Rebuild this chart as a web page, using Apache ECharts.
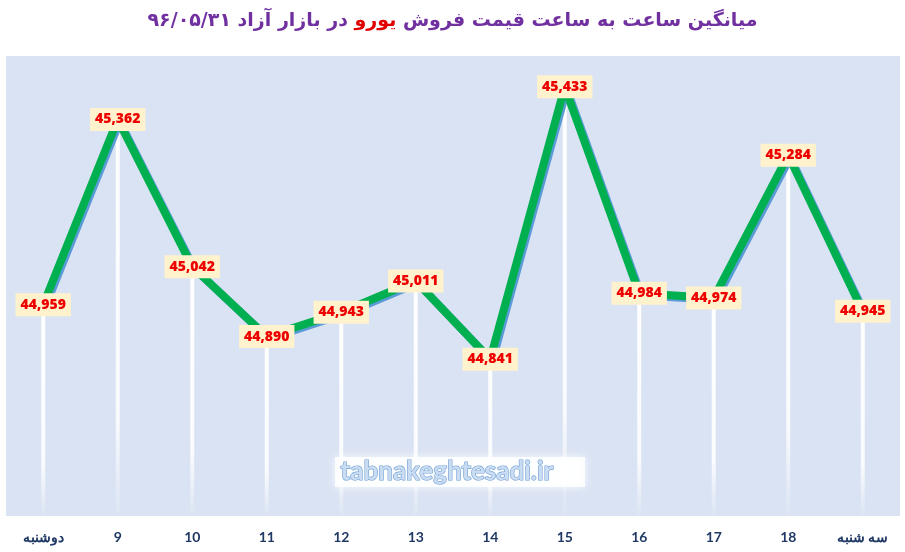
<!DOCTYPE html>
<html>
<head>
<meta charset="utf-8">
<script src="https://cdn.jsdelivr.net/npm/echarts@6/dist/echarts.min.js"></script>
<style>
html, body { margin: 0; padding: 0; background: #fff; }
#chart { width: 905px; height: 552px; }
</style>
</head>
<body>
<div id="chart"></div>
<script>
// ساعت‌ها (محور افقی)
var hours = ['دوشنبه', '9', '10', '11', '12', '13', '14', '15', '16', '17', '18', 'سه شنبه'];
// قیمت فروش یورو
var prices = [44959, 45362, 45042, 44890, 44943, 45011, 44841, 45433, 44984, 44974, 45284, 44945];
var yMin = 44500;
var yMax = 45500;

var myChart = echarts.init(document.getElementById('chart'));

var option = {
  backgroundColor: '#ffffff',
  animation: false,
  title: {
    left: 'center',
    top: 7,
    text: '{p|۹۶/۰۵/۳۱ در بازار آزاد }{r|یورو}{p| میانگین ساعت به ساعت قیمت فروش}',
    textStyle: {
      rich: {
        p: { color: '#7030a0', fontSize: 19, fontWeight: 'bold', fontFamily: 'DejaVu Sans' },
        r: { color: '#e00000', fontSize: 19, fontWeight: 'bold', fontFamily: 'DejaVu Sans' }
      }
    }
  },
  grid: { left: 6, right: 5, top: 56, bottom: 36, show: true, backgroundColor: '#dae3f3', borderWidth: 0 },
  xAxis: {
    type: 'category',
    data: hours,
    boundaryGap: true,
    axisLine: { show: false },
    axisTick: { show: false },
    axisLabel: { color: '#1f3864', fontWeight: 'bold', fontSize: 14, fontFamily: 'Lato', margin: 14 }
  },
  yAxis: {
    type: 'value',
    min: yMin,
    max: yMax,
    show: false,
    splitLine: { show: false }
  },
  series: [
    {
      // خطوط عمودی سفید زیر نقاط
      type: 'bar',
      data: prices,
      barWidth: 4,
      silent: true,
      itemStyle: {
        color: new echarts.graphic.LinearGradient(0, 0, 0, 1, [
          { offset: 0, color: 'rgba(255,255,255,1)' },
          { offset: 0.75, color: 'rgba(255,255,255,0.85)' },
          { offset: 1, color: 'rgba(255,255,255,0.05)' }
        ])
      },
      z: 1
    },
    {
      type: 'line',
      data: prices,
      symbol: 'circle',
      symbolSize: 1,
      itemStyle: { color: '#00b050' },
      lineStyle: {
        color: '#00b050',
        width: 8,
        shadowColor: '#5b9bd5',
        shadowOffsetX: 2,
        shadowOffsetY: 2,
        shadowBlur: 0
      },
      label: {
        show: true,
        position: 'inside',
        color: '#ee0000',
        fontWeight: 800,
        fontSize: 14,
        fontFamily: 'Open Sans',
        backgroundColor: '#fff2cc',
        padding: [5, 5, 4, 5],
        formatter: function (p) { return echarts.format.addCommas(p.value); }
      },
      z: 3
    }
  ],
  graphic: [
    {
      type: 'rect',
      left: 335,
      top: 457,
      shape: { width: 250, height: 30 },
      style: { fill: 'rgba(255,255,255,0.85)', shadowColor: '#ffffff', shadowBlur: 8 },
      z: 5
    },
    {
      type: 'text',
      left: 340,
      top: 458,
      style: {
        text: 'tabnakeghtesadi.ir',
        fill: '#c9dcf2',
        stroke: '#6f9fd6',
        lineWidth: 1.2,
        fontSize: 26,
        fontFamily: 'Lato',
        fontWeight: 'bold'
      },
      z: 6
    }
  ]
};

myChart.setOption(option);
</script>
</body>
</html>
